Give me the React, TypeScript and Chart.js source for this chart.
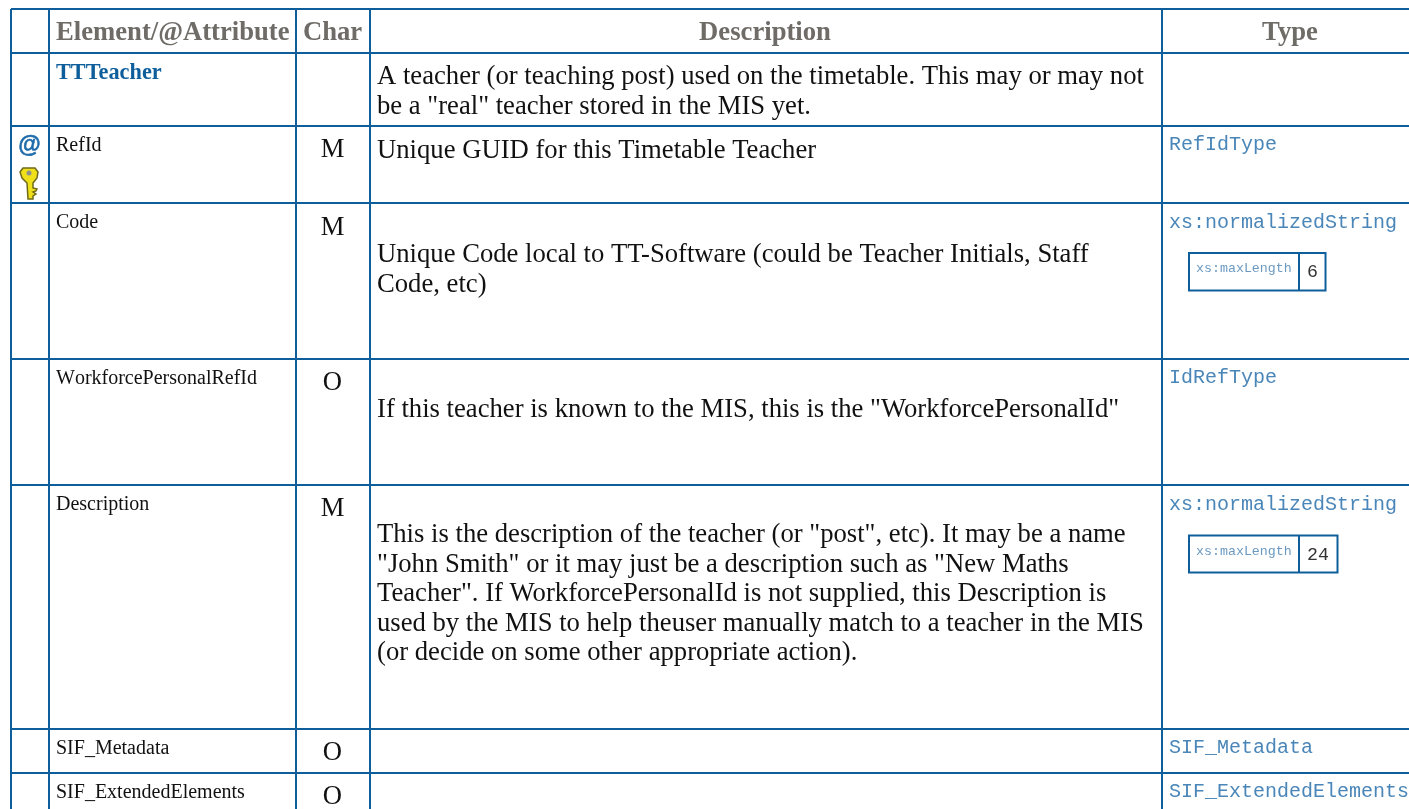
import React, { useEffect, useRef } from "react";
import { Chart, registerables } from "chart.js";

Chart.register(...registerables);

const columnEdges = [10.5, 49, 296, 369.5, 1161.5];
const rowEdges = [9, 52.5, 126, 202.5, 358.5, 485.5, 729, 772.5];

const headers = ["Element/@Attribute", "Char", "Description", "Type"];
const rootElement = "TTTeacher";
const elements = ["RefId", "Code", "WorkforcePersonalRefId", "Description", "SIF_Metadata", "SIF_ExtendedElements"];
const chars = ["M", "M", "O", "M", "O", "O"];
const types = ["RefIdType", "xs:normalizedString", "IdRefType", "xs:normalizedString", "SIF_Metadata", "SIF_ExtendedElements"];
const facetName = "xs:maxLength";
const facetValues = ["6", "24"];
const descriptions: string[][] = [
  ["A teacher (or teaching post) used on the timetable. This may or may not", "be a \"real\" teacher stored in the MIS yet."],
  ["Unique GUID for this Timetable Teacher"],
  ["Unique Code local to TT-Software (could be Teacher Initials, Staff", "Code, etc)"],
  ["If this teacher is known to the MIS, this is the \"WorkforcePersonalId\""],
  ["This is the description of the teacher (or \"post\", etc). It may be a name", "\"John Smith\" or it may just be a description such as \"New Maths", "Teacher\". If WorkforcePersonalId is not supplied, this Description is", "used by the MIS to help theuser manually match to a teacher in the MIS", "(or decide on some other appropriate action)."],
];
const descriptionFirstBaselines = [84, 158, 262, 417, 542];
const elementBaselines = [151, 228, 384, 510, 754, 798];
const charBaselines = [157, 235, 390, 516, 760, 804];
const typeBaselines = [150, 228, 383, 510, 753, 797];

const LINE = "#0f5e9c";
const SERIF = '"Liberation Serif"';
const MONO = '"Liberation Mono"';

const tablePlugin = {
  id: "tableText",
  afterDraw(chart: any) {
    const { ctx, scales } = chart;
    const X = (v: number) => scales.x.getPixelForValue(v);
    const Y = (v: number) => scales.y.getPixelForValue(v);
    const text = (s: string, x: number, y: number, font: string, color: string, align: CanvasTextAlign = "left") => {
      ctx.font = font;
      ctx.fillStyle = color;
      ctx.textAlign = align;
      ctx.textBaseline = "alphabetic";
      ctx.fillText(s, X(x), Y(y));
    };
    ctx.save();
    const hf = `bold 26.67px ${SERIF}`;
    const grey = "#6f6c68";
    text(headers[0], 56, 40, hf, grey);
    text(headers[1], 332.5, 40, hf, grey, "center");
    text(headers[2], 765, 40, hf, grey, "center");
    text(headers[3], 1290, 40, hf, grey, "center");
    text(rootElement, 56, 79, `bold 22.3px ${SERIF}`, "#0f5e9c");

    ctx.fontKerning = "none";
    elements.forEach((s, i) => text(s, 56, elementBaselines[i], `20px ${SERIF}`, "#111"));
    ctx.fontKerning = "auto";
    chars.forEach((s, i) => text(s, 332.5, charBaselines[i], `26.67px ${SERIF}`, "#111", "center"));
    descriptions.forEach((lines, i) =>
      lines.forEach((s, j) => text(s, 377, descriptionFirstBaselines[i] + j * 29.5, `26.67px ${SERIF}`, "#111"))
    );
    types.forEach((s, i) => text(s, 1169, typeBaselines[i], `20px ${MONO}`, "#4a86b8"));

    text("@", 29.5, 152, `bold 23px "Liberation Sans"`, "#1f6cab", "center");
    ctx.strokeStyle = "#1f6cab";
    ctx.lineWidth = 0.5;
    ctx.strokeText("@", X(29.5), Y(152));

    // key icon
    const kx = X(29), ky = Y(168);
    ctx.fillStyle = "#efe01a";
    ctx.strokeStyle = "#6f6a1a";
    ctx.lineWidth = 1.5;
    ctx.beginPath();
    ctx.moveTo(kx - 6, ky);
    ctx.lineTo(kx + 6, ky);
    ctx.lineTo(kx + 9, ky + 4);
    ctx.lineTo(kx + 8, ky + 10);
    ctx.lineTo(kx + 4, ky + 15);
    ctx.lineTo(kx + 4, ky + 20);
    ctx.lineTo(kx + 8, ky + 21);
    ctx.lineTo(kx + 7, ky + 23);
    ctx.lineTo(kx + 4, ky + 24);
    ctx.lineTo(kx + 7, ky + 26);
    ctx.lineTo(kx + 4, ky + 28);
    ctx.lineTo(kx + 4, ky + 31);
    ctx.lineTo(kx - 1, ky + 31);
    ctx.lineTo(kx - 2, ky + 15);
    ctx.lineTo(kx - 7, ky + 10);
    ctx.lineTo(kx - 9, ky + 4);
    ctx.closePath();
    ctx.fill();
    ctx.stroke();
    ctx.fillStyle = "#8f8f8f";
    ctx.beginPath();
    ctx.arc(kx, ky + 5, 2.5, 0, Math.PI * 2);
    ctx.fill();

    // facet boxes
    const boxes = [
      { x0: 1189, x1: 1299, x2: 1325.5, y0: 253, y1: 290.5 },
      { x0: 1189, x1: 1299, x2: 1337.5, y0: 535.5, y1: 572.5 },
    ];
    boxes.forEach((b, i) => {
      ctx.strokeStyle = LINE;
      ctx.lineWidth = 2;
      ctx.strokeRect(X(b.x0), Y(b.y0), X(b.x2) - X(b.x0), Y(b.y1) - Y(b.y0));
      ctx.beginPath();
      ctx.moveTo(X(b.x1), Y(b.y0));
      ctx.lineTo(X(b.x1), Y(b.y1));
      ctx.stroke();
      text(facetName, 1196, b.y0 + 19, `13.3px ${MONO}`, "#6b99c2");
      text(facetValues[i], 1307, b.y0 + 24, `18.3px ${MONO}`, "#333");
    });
    ctx.restore();
  },
};

export default function App() {
  const ref = useRef<HTMLCanvasElement>(null);
  useEffect(() => {
    document.body.style.margin = "0";
    document.body.style.background = "#fff";
    const chart = new Chart(ref.current!, {
      type: "scatter",
      data: { datasets: [{ data: [], pointRadius: 0 }] },
      plugins: [tablePlugin],
      options: {
        animation: false,
        responsive: false,
        layout: { padding: { left: columnEdges[0], top: rowEdges[0] } },
        plugins: { legend: { display: false }, tooltip: { enabled: false } },
        scales: {
          x: {
            type: "linear",
            min: columnEdges[0],
            max: 1409,
            afterBuildTicks: (s: any) => { s.ticks = columnEdges.map((value) => ({ value })); },
            grid: { color: LINE, lineWidth: 2, drawTicks: false },
            border: { display: false },
            ticks: { display: false },
          },
          y: {
            type: "linear",
            reverse: true,
            min: rowEdges[0],
            max: 809,
            afterBuildTicks: (s: any) => { s.ticks = rowEdges.map((value) => ({ value })); },
            grid: { color: LINE, lineWidth: 2, drawTicks: false },
            border: { display: false },
            ticks: { display: false },
          },
        },
      },
    } as any);
    return () => chart.destroy();
  }, []);
  return <canvas ref={ref} width={1409} height={809} style={{ display: "block" }} />;
}
